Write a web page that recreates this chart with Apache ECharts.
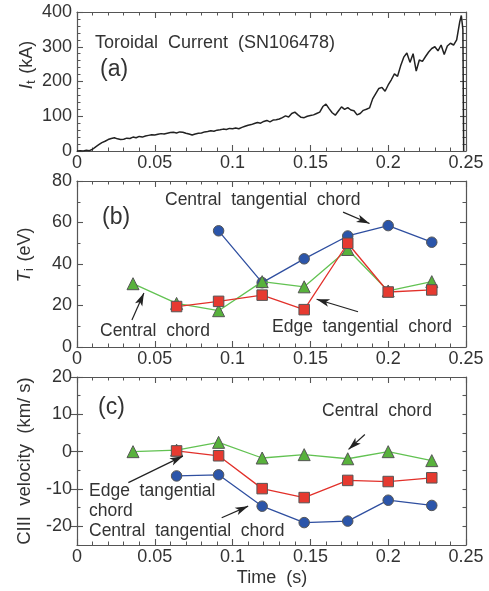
<!DOCTYPE html>
<html>
<head>
<meta charset="utf-8">
<script src="https://cdn.jsdelivr.net/npm/echarts@6/dist/echarts.min.js"></script>
<style>html,body{margin:0;padding:0;background:#fff;}#c{width:489px;height:591px;}</style>
</head>
<body>
<div id="c"></div>
<script>
// Panel (a): toroidal current trace
const tCur = [0,0.002,0.004,0.006,0.008,0.010,0.012,0.014,0.016,0.018,0.020,0.022,0.024,0.026,0.028,0.030,0.032,0.034,0.036,0.038,0.040,0.042,0.044,0.046,0.048,0.050,0.052,0.054,0.056,0.058,0.060,0.062,0.064,0.066,0.068,0.070,0.072,0.074,0.076,0.078,0.080,0.082,0.084,0.086,0.088,0.090,0.092,0.094,0.096,0.098,0.100,0.102,0.104,0.106,0.108,0.110,0.112,0.114,0.116,0.118,0.120,0.122,0.124,0.126,0.128,0.130,0.132,0.134,0.136,0.138,0.140,0.142,0.144,0.146,0.148,0.150,0.152,0.154,0.156,0.158,0.160,0.162,0.164,0.166,0.168,0.170,0.172,0.174,0.176,0.178,0.180,0.182,0.184,0.186,0.188,0.190,0.192,0.194,0.196,0.198,0.200,0.202,0.204,0.206,0.208,0.210,0.212,0.214,0.216,0.218,0.220,0.222,0.224,0.226,0.228,0.230,0.232,0.234,0.236,0.238,0.240,0.242,0.244,0.246,0.247,0.248,0.2485];
const iCur = [0,1,0,2,1,5,12,18,24,28,33,36,38,35,33,34,37,36,40,38,42,40,43,45,47,46,48,50,49,51,53,54,52,55,54,51,49,46,49,51,52,55,56,58,57,60,61,63,62,65,64,66,64,68,71,74,76,79,82,80,85,88,84,89,90,92,96,101,98,108,112,104,97,96,100,102,104,108,112,128,135,122,110,103,115,127,120,125,118,116,104,108,117,120,124,150,165,180,183,172,190,205,222,215,245,270,282,255,280,230,262,258,272,285,295,300,288,305,278,302,310,305,320,372,390,350,0];

// Panels (b) and (c): measurement times
const tPts = [0.036, 0.064, 0.091, 0.119, 0.146, 0.174, 0.2, 0.228];
// (b) ion temperature Ti (eV)
const tiCentralTang = [null, null, 56, 31, 42.5, 53.5, 58.5, 50.5];
const tiCentral     = [30.5, 21, 17.5, 31.5, 29, 47, 27, 31.5];
const tiEdgeTang    = [null, 19.5, 22, 25, 18, 50, 26.5, 27.5];
// (c) CIII velocity (km/s)
const vCentralTang = [null, -6.5, -6.2, -14.6, -19, -18.6, -13, -14.4];
const vCentral     = [0, 0.4, 2.5, -1.7, -0.8, -1.9, 0, -2.4];
const vEdgeTang    = [null, 0.2, -1.1, -9.9, -12.3, -7.7, -8, -7];

const FONT = '"Liberation Sans", Arial, Helvetica, sans-serif';
const AX = '#555';
const TXT = '#333';

function pairs(xs, ys) { return xs.map((x, i) => [x, ys[i]]); }

function xAx(g, pos) {
  return {
    gridIndex: g, type: 'value', min: 0, max: 0.25, interval: 0.05, position: pos,
    axisLine: { show: true, onZero: false, lineStyle: { color: AX, width: 1.2 } },
    axisTick: { show: true, inside: true, length: 6, lineStyle: { color: AX, width: 1.1 } },
    minorTick: { show: true, splitNumber: 5, length: 3.5, lineStyle: { color: AX, width: 1 } },
    splitLine: { show: false },
    axisLabel: { show: pos === 'bottom', fontSize: 18, fontFamily: FONT, color: TXT, margin: 3,
      formatter: v => String(+v.toFixed(3)) }
  };
}
function yAx(g, pos, min, max, interval, minorSplit, labelFn) {
  return {
    gridIndex: g, type: 'value', min: min, max: max, interval: interval, position: pos,
    axisLine: { show: true, onZero: false, lineStyle: { color: AX, width: 1.2 } },
    axisTick: { show: true, inside: true, length: minorSplit ? 6 : 3.5, lineStyle: { color: AX, width: 1.1 } },
    minorTick: { show: !!minorSplit, splitNumber: minorSplit || 1, length: 3.5, lineStyle: { color: AX, width: 1 } },
    splitLine: { show: false },
    axisLabel: { show: pos === 'left', fontSize: 18, fontFamily: FONT, color: TXT, margin: 5,
      formatter: labelFn || (v => String(v)) }
  };
}
function yMajorOverlay(g, pos, min, max, vals) {
  return {
    gridIndex: g, type: 'value', min: min, max: max, position: pos,
    axisLine: { show: false },
    axisTick: { show: true, inside: true, length: 6, customValues: vals, lineStyle: { color: AX, width: 1.1 } },
    splitLine: { show: false },
    axisLabel: { show: false }
  };
}

const blue = { line: '#2f4fa0', fill: '#2b55aa' };
const red = { line: '#e2302a', fill: '#e63a30' };
const green = { line: '#62c252', fill: '#58b23c' };

function ptSeries(xi, yi, ys, col, sym, size, z) {
  return {
    type: 'line', xAxisIndex: xi, yAxisIndex: yi, data: pairs(tPts, ys),
    symbol: sym, symbolSize: size, showSymbol: true, z: z,
    lineStyle: { color: col.line, width: 1.3 },
    itemStyle: { color: col.fill, borderColor: '#555', borderWidth: 1 },
    animation: false
  };
}
function arrows(list) {
  return {
    silent: true, symbol: ['none', 'arrow'], symbolSize: [6, 13], animation: false,
    lineStyle: { color: '#222', width: 1.2, type: 'solid' },
    label: { show: false },
    data: list.map(a => [{ coord: a[0] }, { coord: a[1] }])
  };
}

const cMajor = [-20, -10, 0, 10, 20];
const ANN = '17.5px ' + FONT;

function label(x, y, text, font) {
  return { type: 'text', x: x, y: y, style: { text: text, font: font, fill: TXT, align: 'left', verticalAlign: 'middle' } };
}

const option = {
  backgroundColor: '#fff',
  animation: false,
  grid: [
    { left: 77, right: 23, top: 12, height: 139 },
    { left: 77, right: 23, top: 181, height: 166 },
    { left: 77, right: 23, top: 377, height: 168 }
  ],
  xAxis: [xAx(0, 'bottom'), xAx(0, 'top'), xAx(1, 'bottom'), xAx(1, 'top'), xAx(2, 'bottom'), xAx(2, 'top')],
  yAxis: [
    yAx(0, 'left', 0, 400, 100, 5), yAx(0, 'right', 0, 400, 100, 5),
    yAx(1, 'left', 0, 80, 20, 2), yAx(1, 'right', 0, 80, 20, 2),
    yAx(2, 'left', -25, 20, 5, 0, v => (v % 10 === 0 ? String(v) : '')),
    yAx(2, 'right', -25, 20, 5, 0),
    yMajorOverlay(2, 'left', -25, 20, cMajor),
    yMajorOverlay(2, 'right', -25, 20, cMajor)
  ],
  series: [
    {
      type: 'line', xAxisIndex: 0, yAxisIndex: 0, data: pairs(tCur, iCur),
      showSymbol: false, symbol: 'none', lineStyle: { color: '#222', width: 1.5 }, animation: false
    },
    ptSeries(2, 2, tiCentralTang, blue, 'circle', 10.5, 2),
    Object.assign(ptSeries(2, 2, tiCentral, green, 'triangle', 12, 3), {
      markLine: arrows([
        [[0.171, 65], [0.188, 59.5]],
        [[0.1806, 17], [0.154, 23]],
        [[0.0353, 13], [0.043, 26]]
      ])
    }),
    ptSeries(2, 2, tiEdgeTang, red, 'rect', 10.5, 4),
    ptSeries(4, 4, vCentralTang, blue, 'circle', 10.5, 2),
    Object.assign(ptSeries(4, 4, vCentral, green, 'triangle', 12, 3), {
      markLine: arrows([
        [[0.185, 4.6], [0.1745, 0.6]],
        [[0.033, -8.3], [0.068, -1.2]],
        [[0.093, -17.7], [0.110, -14.6]]
      ])
    }),
    ptSeries(4, 4, vEdgeTang, red, 'rect', 10.5, 4)
  ],
  graphic: [
    label(95, 43, 'Toroidal  Current  (SN106478)', '18px ' + FONT),
    label(100, 70, '(a)', '23px ' + FONT),
    label(165, 200, 'Central  tangential  chord', ANN),
    label(102, 218, '(b)', '23px ' + FONT),
    label(272, 327, 'Edge  tangential  chord', ANN),
    label(100, 331, 'Central  chord', ANN),
    label(98, 408, '(c)', '23px ' + FONT),
    label(322, 411, 'Central  chord', ANN),
    label(89, 491, 'Edge  tangential', ANN),
    label(89, 511, 'chord', ANN),
    label(89, 531, 'Central  tangential  chord', ANN),
    { type: 'text', x: 27, y: 65, rotation: Math.PI / 2, style: {
        text: '{i|I}{s|t}  {n|(kA)}', align: 'center', verticalAlign: 'middle', fill: TXT,
        rich: { i: { fontSize: 19, fontStyle: 'italic', fontFamily: FONT, fill: TXT },
                s: { fontSize: 13, fontFamily: FONT, fill: TXT, padding: [9, 0, 0, 0] },
                n: { fontSize: 18, fontFamily: FONT, fill: TXT } } } },
    { type: 'text', x: 25, y: 255, rotation: Math.PI / 2, style: {
        text: '{i|T}{s|i}  {n|(eV)}', align: 'center', verticalAlign: 'middle', fill: TXT,
        rich: { i: { fontSize: 19, fontStyle: 'italic', fontFamily: FONT, fill: TXT },
                s: { fontSize: 13, fontFamily: FONT, fill: TXT, padding: [9, 0, 0, 0] },
                n: { fontSize: 18, fontFamily: FONT, fill: TXT } } } },
    { type: 'text', x: 25, y: 461, rotation: Math.PI / 2, style: { text: 'CIII  velocity  (km/ s)', font: '18.5px ' + FONT, fill: TXT, align: 'center', verticalAlign: 'middle' } },
    { type: 'text', x: 272, y: 578, style: { text: 'Time  (s)', font: '18px ' + FONT, fill: TXT, align: 'center', verticalAlign: 'middle' } }
  ]
};

const chart = echarts.init(document.getElementById('c'), null, { renderer: 'canvas' });
chart.setOption(option);
</script>
</body>
</html>
